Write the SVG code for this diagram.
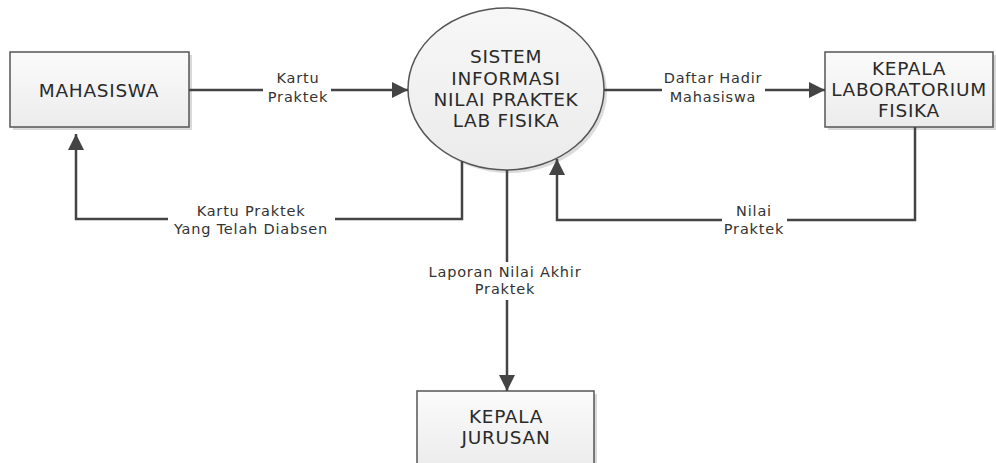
<svg xmlns="http://www.w3.org/2000/svg" width="996" height="463" viewBox="0 0 996 463">
<style>
.box{stroke:#555;stroke-width:1.5;fill:url(#gb)}
.shadow{fill:#d9d9d9}
.nt{font-family:"DejaVu Sans",Verdana,sans-serif;font-size:18.5px;letter-spacing:0.7px;fill:#2a2a2a;text-anchor:middle}
.lt{font-family:"DejaVu Sans",Verdana,sans-serif;font-size:14.5px;letter-spacing:0.8px;fill:#333;text-anchor:middle}
.ln{fill:none;stroke:#444;stroke-width:2.5}
.bg{fill:#fff}
</style>
<defs>
<linearGradient id="gb" x1="0" y1="0" x2="0" y2="1">
<stop offset="0" stop-color="#fbfbfb"/>
<stop offset="1" stop-color="#ececec"/>
</linearGradient>
<linearGradient id="ge" x1="0" y1="0" x2="0" y2="1">
<stop offset="0" stop-color="#f7f7f7"/>
<stop offset="1" stop-color="#ebebeb"/>
</linearGradient>
<marker id="ah" viewBox="0 0 16 16" refX="16" refY="8" markerWidth="16" markerHeight="16" markerUnits="userSpaceOnUse" orient="auto">
<path d="M0,0 L16,8 L0,16 Z" fill="#444"/>
</marker>
</defs>

<g id="mahasiswa">
<rect class="shadow" x="13" y="55" width="179" height="75"/>
<rect class="box" x="10" y="52" width="179" height="75"/>
<text class="nt" x="99" y="96.5">MAHASISWA</text>
</g>

<g id="sistem">
<ellipse cx="509" cy="92" rx="98" ry="81" fill="#dcdcdc"/>
<ellipse cx="506" cy="89" rx="98" ry="81" fill="url(#ge)" stroke="#555" stroke-width="1.5"/>
<text class="nt" x="506" y="63">SISTEM</text>
<text class="nt" x="506" y="84.5">INFORMASI</text>
<text class="nt" x="506" y="106">NILAI PRAKTEK</text>
<text class="nt" x="506" y="127">LAB FISIKA</text>
</g>

<g id="kepala-lab">
<rect class="shadow" x="828" y="55" width="168" height="75"/>
<rect class="box" x="825" y="52" width="168" height="75"/>
<text class="nt" x="909" y="74.5">KEPALA</text>
<text class="nt" x="909" y="95.5">LABORATORIUM</text>
<text class="nt" x="909" y="116.5">FISIKA</text>
</g>

<g id="kepala-jurusan">
<rect class="shadow" x="420" y="394" width="177" height="75"/>
<rect class="box" x="417" y="391" width="177" height="75"/>
<text class="nt" x="506" y="422.5">KEPALA</text>
<text class="nt" x="506" y="443.5">JURUSAN</text>
</g>

<g id="connectors">
<line class="ln" x1="189" y1="90" x2="408" y2="90" marker-end="url(#ah)"/>
<line class="ln" x1="604" y1="90" x2="825" y2="90" marker-end="url(#ah)"/>
<polyline class="ln" points="462,161 462,219 76,219 76,134" marker-end="url(#ah)"/>
<polyline class="ln" points="915,127 915,220 557,220 557,159" marker-end="url(#ah)"/>
<line class="ln" x1="507" y1="170" x2="507" y2="391" marker-end="url(#ah)"/>

<rect class="bg" x="263" y="70" width="68" height="36"/>
<text class="lt" x="298" y="83">Kartu</text>
<text class="lt" x="298" y="102">Praktek</text>

<rect class="bg" x="662" y="70" width="103" height="36"/>
<text class="lt" x="713" y="83">Daftar Hadir</text>
<text class="lt" x="713" y="102">Mahasiswa</text>

<rect class="bg" x="168" y="200" width="167" height="38"/>
<text class="lt" x="251" y="215.5">Kartu Praktek</text>
<text class="lt" x="251" y="233.5">Yang Telah Diabsen</text>

<rect class="bg" x="722" y="200" width="65" height="38"/>
<text class="lt" x="754" y="215.5">Nilai</text>
<text class="lt" x="754" y="233.5">Praktek</text>

<rect class="bg" x="422" y="262" width="166" height="38"/>
<text class="lt" x="505" y="277">Laporan Nilai Akhir</text>
<text class="lt" x="505" y="294">Praktek</text>
</g>
</svg>
